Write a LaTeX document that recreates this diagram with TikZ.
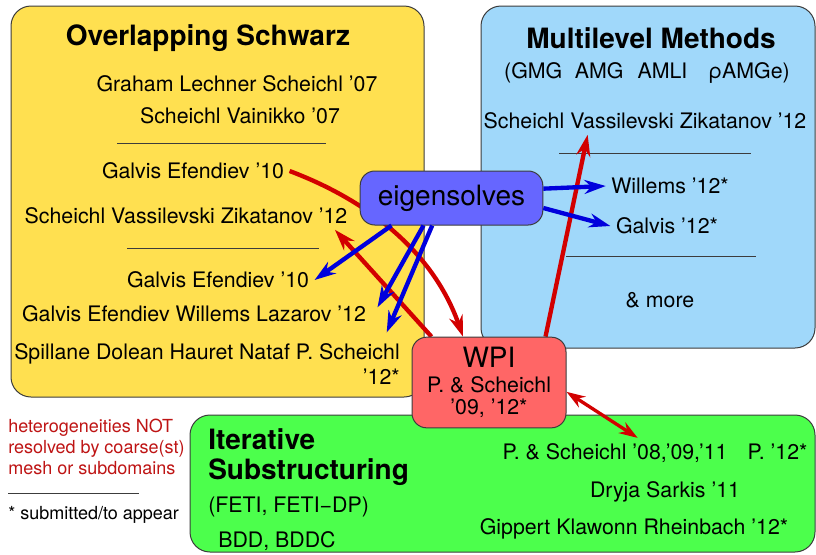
\documentclass[tikz,border=0pt]{standalone}
\usepackage{fontspec}
\setmainfont{TeX Gyre Heros}
\usetikzlibrary{arrows.meta}

\definecolor{schwarzyellow}{RGB}{255,224,80}
\definecolor{mlblue}{RGB}{160,216,250}
\definecolor{substrgreen}{RGB}{76,255,76}
\definecolor{wpired}{RGB}{255,102,102}
\definecolor{eigblue}{RGB}{102,102,255}
\definecolor{arrowred}{RGB}{210,0,0}
\definecolor{arrowblue}{RGB}{0,0,220}
\definecolor{notered}{RGB}{190,20,20}
\definecolor{edge}{RGB}{60,60,60}

\pgfdeclarelayer{boxes}
\pgfdeclarelayer{links}
\pgfsetlayers{boxes,links,main}

\tikzset{
  area/.style={draw=edge, line width=0.75pt, rounded corners=15pt},
  rule/.style={draw=edge, line width=0.75pt},
  ref/.style={font=\fontsize{16}{17}\selectfont, inner sep=4pt},
  title/.style={font=\fontsize{21}{22}\selectfont\bfseries, inner sep=4pt},
  note/.style={font=\fontsize{13.5}{15.8}\selectfont, inner sep=0pt, anchor=west, align=left},
  bubble/.style={draw=edge, line width=0.75pt, rounded corners=11pt, align=center},
  redarrow/.style={draw=arrowred, line width=3.25pt, -{Stealth[length=16pt,width=10.5pt]}},
  bluearrow/.style={draw=arrowblue, line width=3.25pt, -{Stealth[length=16pt,width=10.5pt]}},
  twoway/.style={draw=arrowred, line width=2.5pt, {Stealth[length=14pt,width=9.5pt]}-{Stealth[length=14pt,width=9.5pt]}}
}

\begin{document}
\begin{tikzpicture}[x=0.75pt, y=-0.75pt]

    \useasboundingbox (0,0) rectangle (816,554);

    % caixas
    \begin{pgfonlayer}{boxes}
    \filldraw[area, fill=schwarzyellow] (11,6) rectangle (424,397);
    \filldraw[area, fill=mlblue] (481,6) rectangle (815,348);
    \filldraw[area, fill=substrgreen] (190,415) rectangle (815,552);
    \draw[rule] (117,143) -- (326,143);
    \draw[rule] (127,248) -- (319,248);
    \draw[rule] (559,153) -- (751,153);
    \draw[rule] (566,256) -- (756,256);
    \draw[rule] (8,493) -- (139,493);
    \end{pgfonlayer}

    % Overlapping Schwarz
    \node[title] (os) at (208,38) {Overlapping Schwarz};
    \node[ref] (gls) at (237,84) {Graham Lechner Scheichl '07};
    \node[ref] (sv) at (240,116) {Scheichl Vainikko '07};
    \node[ref] (ge10a) at (193,171) {Galvis Efendiev '10};
    \node[ref] (svz) at (186,216) {Scheichl Vassilevski Zikatanov '12};
    \node[ref] (ge10b) at (218,280) {Galvis Efendiev '10};
    \node[ref] (gewl) at (194,314) {Galvis Efendiev Willems Lazarov '12};
    \node[ref, align=right] (sdhn) at (207,364) {Spillane Dolean Hauret Nataf P. Scheichl\\[2pt]'12*};

    % Multilevel
    \node[title] (mlm) at (651,38) {Multilevel Methods};
    \node[ref] (mlnames) at (647,73) {(GMG\hspace{9.5pt}AMG\hspace{10.5pt}AMLI\hspace{16pt}ρAMGe)};
    \node[ref] (svzml) at (645,121) {Scheichl Vassilevski Zikatanov '12};
    \node[ref] (willems) at (670,186) {Willems '12*};
    \node[ref] (galvis) at (667,226) {Galvis '12*};
    \node[ref] (more) at (660,300) {\& more};

    % Substructuring
    \node[title, align=left, anchor=west, inner sep=0pt] (itsub) at (208,457) {Iterative\\Substructuring};
    \node[ref, anchor=west, inner sep=0pt] (feti) at (208,507) {(FETI, FETI−DP)};
    \node[ref, anchor=west, inner sep=0pt] (bdd) at (218,541) {BDD, BDDC};
    \node[ref] (ps) at (655,453) {P. \& Scheichl '08,'09,'11\hspace{15pt}P. '12*};
    \node[ref] (ds) at (665,492) {Dryja Sarkis '11};
    \node[ref] (gkr) at (634,529) {Gippert Klawonn Rheinbach '12*};

    % notas
    \node[note, text=notered] (hetero) at (8,447) {heterogeneities NOT\\resolved by coarse(st)\\mesh or subdomains};
    \node[note] (submitted) at (8,515) {* submitted/to appear};

    % WPI e eigensolves
    \node[bubble, fill=wpired, minimum width=115.5pt, minimum height=68pt,
          font=\fontsize{16}{16.5}\selectfont] (wpi) at (489,382.5)
          {{\fontsize{21}{21}\selectfont WPI}\\[2.5pt]P. \& Scheichl\\'09, '12*};
    \node[bubble, fill=eigblue, minimum width=137pt, minimum height=40.5pt,
          font=\fontsize{21}{21}\selectfont] (eig) at (451.5,198) {eigensolves};

    % setas vermelhas
    \begin{pgfonlayer}{links}
    \draw[redarrow] (ge10a.east) .. controls +(85,32) and +(-28,-80) .. ([xshift=-19.5pt]wpi.north);
    \draw[redarrow] ([xshift=15pt]wpi.north west) -- ([xshift=-13.5pt]svz.south east);
    \draw[redarrow] ([xshift=-15.75pt]wpi.north east) -- ([xshift=-43pt]svzml.south);
    \end{pgfonlayer}
    \draw[twoway] ([yshift=-7pt]wpi.east) -- ([xshift=-13pt]ps.north);

    % setas azuis
    \draw[bluearrow] ([xshift=-45pt]eig.south) -- (ge10b.east);
    \draw[bluearrow] ([xshift=-21pt]eig.south) -- ([xshift=4.5pt,yshift=5pt]gewl.east);
    \draw[bluearrow] ([xshift=-14.5pt]eig.south) -- ([xshift=-14pt,yshift=4pt]sdhn.north east);
    \draw[bluearrow] ([yshift=7pt]eig.east) -- (willems.west);
    \draw[bluearrow] ([yshift=-7.5pt]eig.east) -- (galvis.west);

\end{tikzpicture}
\end{document}
